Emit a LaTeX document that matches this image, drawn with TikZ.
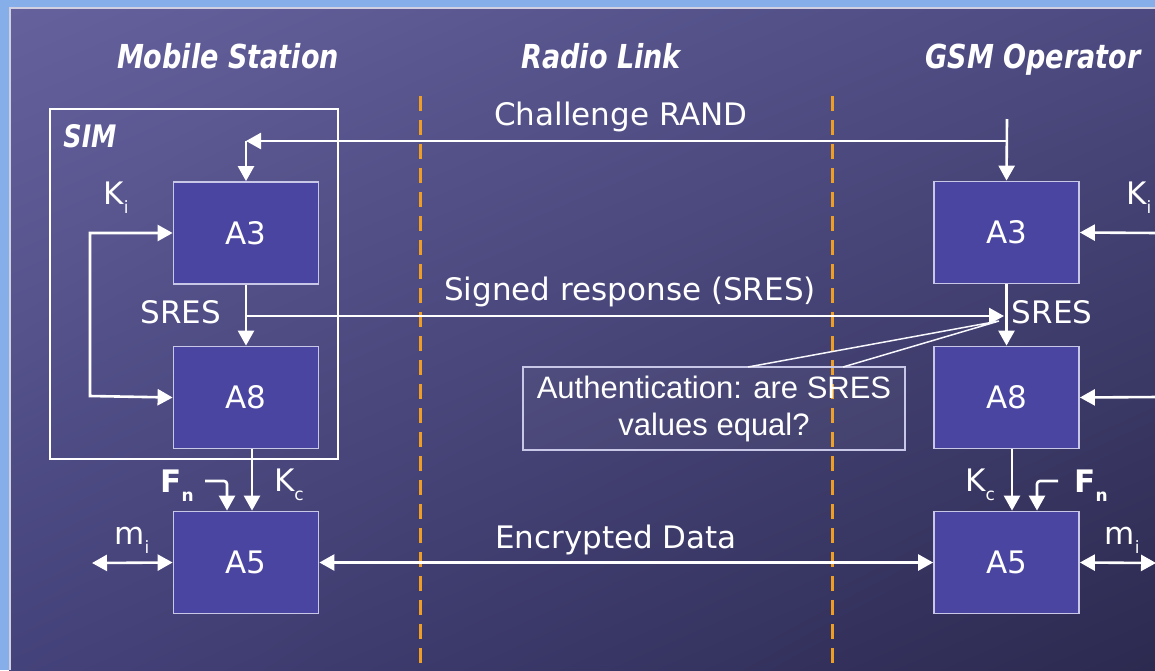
\documentclass[tikz,border=0pt]{standalone}
\usepackage{fontspec}
\setmainfont{DejaVu Sans}
\newfontfamily\titlefont[FakeStretch=0.82]{DejaVu Sans}
\newfontfamily\arialfont{Liberation Sans}
\usetikzlibrary{arrows.meta,shadings}
\definecolor{frameblue}{HTML}{86AEE8}
\definecolor{boxfill}{HTML}{4A45A0}
\definecolor{boxline}{HTML}{C9C7E8}
\definecolor{dashorange}{HTML}{EE9E22}
\definecolor{bgUL}{HTML}{65619D}
\definecolor{bgUR}{HTML}{4C4A80}
\definecolor{bgLL}{HTML}{44427A}
\definecolor{bgLR}{HTML}{2C2A4F}
\newcommand{\mysub}[1]{\raisebox{-0.3em}{\fontsize{17}{17}\selectfont #1}}
\tikzset{
  blk/.style={draw=boxline, line width=1.8pt, fill=boxfill, minimum width=145pt, minimum height=102pt, inner sep=0pt, text=white, font=\fontsize{31}{36}\selectfont},
  wline/.style={draw=white, line width=2.6pt},
  arr/.style={wline, -{Triangle[length=15pt,width=16pt]}},
  dbl/.style={wline, {Triangle[length=15pt,width=16pt]}-{Triangle[length=15pt,width=16pt]}},
  lbl/.style={text=white, inner sep=0pt, font=\fontsize{31}{36}\selectfont},
  ttl/.style={text=white, inner sep=0pt, anchor=base, font=\titlefont\bfseries\itshape\fontsize{33}{38}\selectfont},
  radio/.style={draw=dashorange, line width=3pt, dash pattern=on 15pt off 9pt},
  callout/.style={draw=boxline, line width=1.3pt, fill=white, fill opacity=0.04, text opacity=1, text=white, minimum width=382pt, minimum height=83pt, inner sep=0pt, align=center, font=\arialfont\fontsize{31}{37}\selectfont},
  pointer/.style={draw=white!85!boxline, line width=1.5pt}
}
\begin{document}
\begin{tikzpicture}[x=1pt,y=-1pt]
\useasboundingbox (0,0) rectangle (1155,670);
\fill[frameblue] (0,0) rectangle (1155,670);
\shade[upper left=bgUL, upper right=bgUR, lower left=bgLL, lower right=bgLR] (9,7) rectangle (1155,670);
\draw[white!70!bgUL, line width=1.5pt] (9.75,670) -- (9.75,7.75) -- (1155,7.75);

% titles
\node[ttl] (tms) at (228,68) {Mobile Station};
\node[ttl] (trl) at (601,68) {Radio Link};
\node[ttl] (tgsm) at (1033,68) {GSM Operator};

% radio link boundaries
\coordinate (d1t) at (420,96); \coordinate (d1b) at (420,672);
\coordinate (d2t) at (832,96); \coordinate (d2b) at (832,672);
\draw[radio] (d1t) -- (d1b);
\draw[radio] (d2t) -- (d2b);

% SIM
\node[draw=white, line width=2.4pt, minimum width=288pt, minimum height=350pt, inner sep=0pt] (sim) at (194,284) {};
\node[ttl, anchor=center, font=\titlefont\bfseries\itshape\fontsize{31}{34}\selectfont] (simlbl) at (90,136) {SIM};

% boxes
\node[blk] (lA3) at (246,233) {A3};
\node[blk] (lA8) at (246,397.5) {A8};
\node[blk] (lA5) at (246,562.5) {A5};
\node[blk] (rA3) at (1006.5,232.5) {A3};
\node[blk] (rA8) at (1006.5,397.5) {A8};
\node[blk] (rA5) at (1006.5,562.5) {A5};

% challenge RAND
\coordinate (randtop) at (1007,119);
\coordinate (randjoin) at (1007,141);
\coordinate (randcorner) at (246,141);
\draw[arr] (randtop) -- (rA3.north);
\draw[arr] (randjoin) -- (randcorner);
\draw[arr] (randcorner) -- (lA3.north);
\node[lbl] (randlbl) at (621,117) {Challenge RAND};

% Ki loop left
\coordinate (kiA) at (90,233);
\coordinate (kiB) at (90,396);
\draw[dbl] (lA3.west) -- (kiA) -- (kiB) -- (lA8.west);
\node[lbl] (kil) at (116,198) {K\mysub{i}};

% SRES left
\draw[arr] (lA3.south) -- (lA8.north);
\node[lbl] (sresl) at (181,312) {SRES};
\coordinate (sresA) at (246,316);
\coordinate (sresB) at (1004,316);
\draw[arr] (sresA) -- (sresB);
\node[lbl] (sreslbl) at (630,292) {Signed response (SRES)};

% right side
\draw[arr] (rA3.south) -- (rA8.north);
\node[lbl] (sresr) at (1052,312) {SRES};
\coordinate (kirEnd) at (1158,233);
\coordinate (a8rEnd) at (1158,397);
\draw[arr] (kirEnd) -- (rA3.east);
\draw[arr] (a8rEnd) -- (rA8.east);
\node[lbl, anchor=west] (kir) at (1126,198) {K\mysub{i}};

% callout
\node[callout] (auth) at (714,408.5) {Authentication: are SRES\\values equal?};
\coordinate (tip) at (999,321);
\coordinate (p1) at (748,367);
\coordinate (p2) at (843,367);
\draw[pointer] (p1) -- (tip) -- (p2);

% Kc / Fn left
\draw[arr] ([xshift=6pt]lA8.south) -- ([xshift=6pt]lA5.north);
\node[lbl] (kcl) at (289,485) {K\mysub{c}};
\coordinate (fnlA) at (205,481);
\coordinate (fnlB) at (227,481);
\draw[arr, rounded corners=3pt] (fnlA) -- (fnlB) -- (fnlB |- lA5.north);
\node[lbl] (fnl) at (177,486) {\textbf{F\mysub{\textbf{n}}}};

% Kc / Fn right
\draw[arr] ([xshift=5.5pt]rA8.south) -- ([xshift=5.5pt]rA5.north);
\node[lbl] (kcr) at (980,485) {K\mysub{c}};
\coordinate (fnrA) at (1058,481);
\coordinate (fnrB) at (1037,481);
\draw[arr, rounded corners=3pt] (fnrA) -- (fnrB) -- (fnrB |- rA5.north);
\node[lbl] (fnr) at (1091,486) {\textbf{F\mysub{\textbf{n}}}};

% data
\coordinate (mil) at (92,563);
\coordinate (mir) at (1156,563);
\draw[dbl] (mil) -- (lA5.west);
\draw[dbl] (lA5.east) -- (rA5.west);
\draw[dbl] (rA5.east) -- (mir);
\node[lbl] (mill) at (132,540) {m\mysub{i}};
\node[lbl] (milr) at (1122,540) {m\mysub{i}};
\node[lbl] (enc) at (616,540) {Encrypted Data};
\end{tikzpicture}
\end{document}
